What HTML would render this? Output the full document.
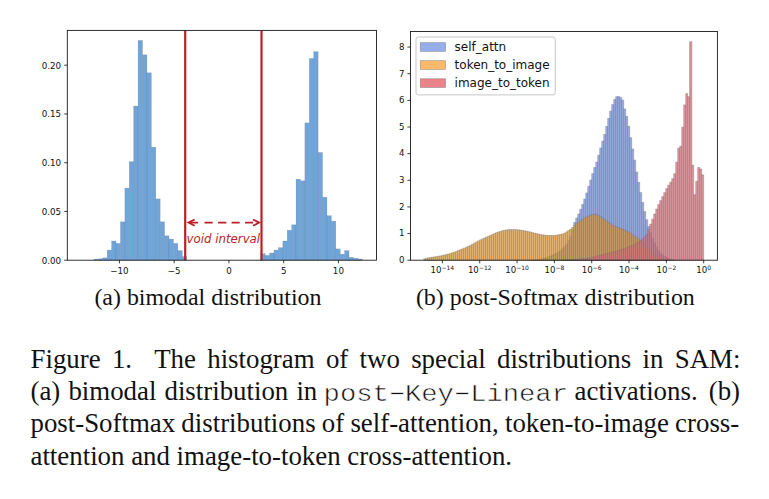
<!DOCTYPE html>
<html><head><meta charset="utf-8"><title>Figure 1</title>
<style>
html,body{margin:0;padding:0;background:#fff;}
body{width:769px;height:499px;position:relative;overflow:hidden;font-family:"Liberation Serif",serif;color:#111;}
.sub{position:absolute;font-size:23.92px;line-height:30px;white-space:nowrap;}
.ln{position:absolute;font-size:26.85px;line-height:32px;height:32px;white-space:nowrap;}
.mono{font-family:"Liberation Mono",monospace;font-size:27.15px;color:#111;-webkit-text-stroke:0.6px #fff;transform:scaleY(0.89);transform-origin:0 72.5%;}
.hy{display:inline-block;transform:scale(1.75,0.75);}
</style></head><body>
<svg width="769" height="499" viewBox="0 0 769 499" style="position:absolute;left:0;top:0">
<g fill="#70a5da" stroke="rgba(85,95,110,0.33)" stroke-width="0.5">
<rect x="93.95" y="259.20" width="4.415" height="1.00"/>
<rect x="98.37" y="258.80" width="4.415" height="1.40"/>
<rect x="102.78" y="257.80" width="4.415" height="2.40"/>
<rect x="107.20" y="250.10" width="4.415" height="10.10"/>
<rect x="111.61" y="241.00" width="4.415" height="19.20"/>
<rect x="116.03" y="243.40" width="4.415" height="16.80"/>
<rect x="120.44" y="221.80" width="4.415" height="38.40"/>
<rect x="124.86" y="188.10" width="4.415" height="72.10"/>
<rect x="129.28" y="161.60" width="4.415" height="98.60"/>
<rect x="133.69" y="106.10" width="4.415" height="154.10"/>
<rect x="138.10" y="40.40" width="4.415" height="219.80"/>
<rect x="142.52" y="54.80" width="4.415" height="205.40"/>
<rect x="146.94" y="72.80" width="4.415" height="187.40"/>
<rect x="151.35" y="147.20" width="4.415" height="113.00"/>
<rect x="155.76" y="198.90" width="4.415" height="61.30"/>
<rect x="160.18" y="221.80" width="4.415" height="38.40"/>
<rect x="164.59" y="235.80" width="4.415" height="24.40"/>
<rect x="169.01" y="239.10" width="4.415" height="21.10"/>
<rect x="173.43" y="243.40" width="4.415" height="16.80"/>
<rect x="177.84" y="250.60" width="4.415" height="9.60"/>
<rect x="182.25" y="256.60" width="4.415" height="3.60"/>
<rect x="260.73" y="253.70" width="4.415" height="6.50"/>
<rect x="265.15" y="255.40" width="4.415" height="4.80"/>
<rect x="269.56" y="253.00" width="4.415" height="7.20"/>
<rect x="273.98" y="250.10" width="4.415" height="10.10"/>
<rect x="278.39" y="247.70" width="4.415" height="12.50"/>
<rect x="282.81" y="241.00" width="4.415" height="19.20"/>
<rect x="287.22" y="230.20" width="4.415" height="30.00"/>
<rect x="291.64" y="224.80" width="4.415" height="35.40"/>
<rect x="296.05" y="179.20" width="4.415" height="81.00"/>
<rect x="300.47" y="180.80" width="4.415" height="79.40"/>
<rect x="304.88" y="122.90" width="4.415" height="137.30"/>
<rect x="309.30" y="58.50" width="4.415" height="201.70"/>
<rect x="313.71" y="51.70" width="4.415" height="208.50"/>
<rect x="318.13" y="152.50" width="4.415" height="107.70"/>
<rect x="322.54" y="197.20" width="4.415" height="63.00"/>
<rect x="326.96" y="215.70" width="4.415" height="44.50"/>
<rect x="331.37" y="221.20" width="4.415" height="39.00"/>
<rect x="335.79" y="248.90" width="4.415" height="11.30"/>
<rect x="340.20" y="254.20" width="4.415" height="6.00"/>
<rect x="344.62" y="250.60" width="4.415" height="9.60"/>
<rect x="349.03" y="257.30" width="4.415" height="2.90"/>
<rect x="353.45" y="258.30" width="4.415" height="1.90"/>
<rect x="357.86" y="259.00" width="4.415" height="1.20"/>
</g>
<line x1="185.20" y1="30.4" x2="185.20" y2="260.2" stroke="#bb1f27" stroke-width="2.2"/>
<line x1="261.50" y1="30.4" x2="261.50" y2="260.2" stroke="#bb1f27" stroke-width="2.2"/>
<g stroke="#bb1f27" stroke-width="1.8" fill="none">
<path d="M189.1 222.6H198.1M204.5 222.6H212.7M218.1 222.6H226.3M231.6 222.6H239.7M245.1 222.6H253.2M257.5 222.6H258.59999999999997"/>
<path d="M194.70 219.5L188.50 222.6L194.70 225.7M253.00 219.5L259.20 222.6L253.00 225.7" stroke-linejoin="miter"/>
</g>
<rect x="67.3" y="30.4" width="309.20" height="229.80" fill="none" stroke="#1a1a1a" stroke-width="0.9"/>
<path d="M119.45 260.2v3.1M174.20 260.2v3.1M228.95 260.2v3.1M283.70 260.2v3.1M338.45 260.2v3.1M67.3 260.20h-3.1M67.3 211.45h-3.1M67.3 162.70h-3.1M67.3 113.95h-3.1M67.3 65.20h-3.1" stroke="#000" stroke-width="0.75" fill="none"/>
<g fill="rgba(112,140,220,0.7)" stroke="rgba(110,110,110,0.42)" stroke-width="0.9">
<rect x="529.73" y="260.15" width="2.000" height="0.05"/>
<rect x="531.73" y="260.01" width="2.000" height="0.19"/>
<rect x="533.73" y="259.87" width="2.000" height="0.33"/>
<rect x="535.73" y="259.73" width="2.000" height="0.47"/>
<rect x="537.73" y="259.59" width="2.000" height="0.61"/>
<rect x="539.73" y="259.28" width="2.000" height="0.92"/>
<rect x="541.73" y="258.67" width="2.000" height="1.53"/>
<rect x="543.73" y="258.07" width="2.000" height="2.13"/>
<rect x="545.73" y="257.47" width="2.000" height="2.73"/>
<rect x="547.73" y="256.86" width="2.000" height="3.34"/>
<rect x="549.73" y="256.03" width="2.000" height="4.17"/>
<rect x="551.73" y="255.03" width="2.000" height="5.17"/>
<rect x="553.73" y="254.03" width="2.000" height="6.17"/>
<rect x="555.73" y="253.03" width="2.000" height="7.17"/>
<rect x="557.73" y="252.03" width="2.000" height="8.17"/>
<rect x="559.73" y="250.29" width="2.000" height="9.91"/>
<rect x="561.73" y="248.32" width="2.000" height="11.88"/>
<rect x="563.73" y="246.35" width="2.000" height="13.85"/>
<rect x="565.73" y="244.14" width="2.000" height="16.06"/>
<rect x="567.73" y="240.09" width="2.000" height="20.11"/>
<rect x="569.73" y="236.05" width="2.000" height="24.15"/>
<rect x="571.73" y="229.66" width="2.000" height="30.54"/>
<rect x="573.73" y="222.33" width="2.000" height="37.87"/>
<rect x="575.73" y="218.04" width="2.000" height="42.16"/>
<rect x="577.73" y="213.97" width="2.000" height="46.23"/>
<rect x="579.73" y="209.30" width="2.000" height="50.90"/>
<rect x="581.73" y="204.41" width="2.000" height="55.79"/>
<rect x="583.73" y="199.02" width="2.000" height="61.18"/>
<rect x="585.73" y="192.98" width="2.000" height="67.22"/>
<rect x="587.73" y="186.31" width="2.000" height="73.89"/>
<rect x="589.73" y="180.12" width="2.000" height="80.08"/>
<rect x="591.73" y="173.61" width="2.000" height="86.59"/>
<rect x="593.73" y="167.47" width="2.000" height="92.73"/>
<rect x="595.73" y="162.13" width="2.000" height="98.07"/>
<rect x="597.73" y="155.34" width="2.000" height="104.86"/>
<rect x="599.72" y="147.95" width="2.000" height="112.25"/>
<rect x="601.72" y="141.22" width="2.000" height="118.98"/>
<rect x="603.72" y="134.40" width="2.000" height="125.80"/>
<rect x="605.72" y="126.40" width="2.000" height="133.80"/>
<rect x="607.72" y="118.41" width="2.000" height="141.79"/>
<rect x="609.72" y="111.12" width="2.000" height="149.08"/>
<rect x="611.72" y="104.59" width="2.000" height="155.61"/>
<rect x="613.72" y="99.47" width="2.000" height="160.73"/>
<rect x="615.72" y="96.76" width="2.000" height="163.44"/>
<rect x="617.72" y="96.43" width="2.000" height="163.77"/>
<rect x="619.72" y="97.61" width="2.000" height="162.59"/>
<rect x="621.72" y="100.13" width="2.000" height="160.07"/>
<rect x="623.72" y="108.92" width="2.000" height="151.28"/>
<rect x="625.72" y="116.50" width="2.000" height="143.70"/>
<rect x="627.72" y="126.31" width="2.000" height="133.89"/>
<rect x="629.72" y="137.62" width="2.000" height="122.58"/>
<rect x="631.72" y="149.06" width="2.000" height="111.14"/>
<rect x="633.72" y="160.12" width="2.000" height="100.08"/>
<rect x="635.72" y="172.12" width="2.000" height="88.08"/>
<rect x="637.72" y="182.40" width="2.000" height="77.80"/>
<rect x="639.72" y="192.61" width="2.000" height="67.59"/>
<rect x="641.72" y="202.47" width="2.000" height="57.73"/>
<rect x="643.72" y="211.58" width="2.000" height="48.62"/>
<rect x="645.72" y="219.76" width="2.000" height="40.44"/>
<rect x="647.72" y="226.57" width="2.000" height="33.63"/>
<rect x="649.72" y="232.65" width="2.000" height="27.55"/>
<rect x="651.72" y="238.65" width="2.000" height="21.55"/>
<rect x="653.72" y="243.03" width="2.000" height="17.17"/>
<rect x="655.72" y="247.03" width="2.000" height="13.17"/>
<rect x="657.72" y="250.62" width="2.000" height="9.58"/>
<rect x="659.72" y="253.31" width="2.000" height="6.89"/>
<rect x="661.72" y="254.81" width="2.000" height="5.39"/>
<rect x="663.72" y="256.31" width="2.000" height="3.89"/>
<rect x="665.72" y="257.39" width="2.000" height="2.81"/>
<rect x="667.72" y="258.37" width="2.000" height="1.83"/>
<rect x="669.71" y="259.18" width="2.000" height="1.02"/>
<rect x="671.71" y="259.69" width="2.000" height="0.51"/>
</g>
<g fill="rgba(229,157,57,0.7)" stroke="rgba(110,110,110,0.42)" stroke-width="0.9">
<rect x="423.75" y="258.83" width="2.000" height="1.37"/>
<rect x="425.75" y="258.30" width="2.000" height="1.90"/>
<rect x="427.75" y="257.77" width="2.000" height="2.43"/>
<rect x="429.75" y="257.46" width="2.000" height="2.74"/>
<rect x="431.75" y="257.18" width="2.000" height="3.02"/>
<rect x="433.75" y="256.90" width="2.000" height="3.30"/>
<rect x="435.75" y="256.59" width="2.000" height="3.61"/>
<rect x="437.75" y="256.25" width="2.000" height="3.95"/>
<rect x="439.75" y="255.91" width="2.000" height="4.29"/>
<rect x="441.75" y="255.52" width="2.000" height="4.68"/>
<rect x="443.75" y="255.02" width="2.000" height="5.18"/>
<rect x="445.75" y="254.53" width="2.000" height="5.67"/>
<rect x="447.75" y="254.02" width="2.000" height="6.18"/>
<rect x="449.75" y="253.37" width="2.000" height="6.83"/>
<rect x="451.75" y="252.73" width="2.000" height="7.47"/>
<rect x="453.75" y="252.08" width="2.000" height="8.12"/>
<rect x="455.75" y="251.30" width="2.000" height="8.90"/>
<rect x="457.75" y="250.50" width="2.000" height="9.70"/>
<rect x="459.74" y="249.70" width="2.000" height="10.50"/>
<rect x="461.74" y="248.86" width="2.000" height="11.34"/>
<rect x="463.74" y="248.00" width="2.000" height="12.20"/>
<rect x="465.74" y="247.14" width="2.000" height="13.06"/>
<rect x="467.74" y="246.27" width="2.000" height="13.93"/>
<rect x="469.74" y="245.28" width="2.000" height="14.92"/>
<rect x="471.74" y="244.14" width="2.000" height="16.06"/>
<rect x="473.74" y="243.00" width="2.000" height="17.20"/>
<rect x="475.74" y="241.88" width="2.000" height="18.32"/>
<rect x="477.74" y="240.86" width="2.000" height="19.34"/>
<rect x="479.74" y="239.85" width="2.000" height="20.35"/>
<rect x="481.74" y="238.83" width="2.000" height="21.37"/>
<rect x="483.74" y="237.95" width="2.000" height="22.25"/>
<rect x="485.74" y="237.09" width="2.000" height="23.11"/>
<rect x="487.74" y="236.23" width="2.000" height="23.97"/>
<rect x="489.74" y="235.33" width="2.000" height="24.87"/>
<rect x="491.74" y="234.40" width="2.000" height="25.80"/>
<rect x="493.74" y="233.48" width="2.000" height="26.72"/>
<rect x="495.74" y="232.65" width="2.000" height="27.55"/>
<rect x="497.74" y="231.97" width="2.000" height="28.23"/>
<rect x="499.74" y="231.30" width="2.000" height="28.90"/>
<rect x="501.74" y="230.66" width="2.000" height="29.54"/>
<rect x="503.74" y="230.32" width="2.000" height="29.88"/>
<rect x="505.74" y="229.98" width="2.000" height="30.22"/>
<rect x="507.74" y="229.64" width="2.000" height="30.56"/>
<rect x="509.74" y="229.60" width="2.000" height="30.60"/>
<rect x="511.74" y="229.60" width="2.000" height="30.60"/>
<rect x="513.74" y="229.60" width="2.000" height="30.60"/>
<rect x="515.74" y="229.73" width="2.000" height="30.47"/>
<rect x="517.74" y="229.95" width="2.000" height="30.25"/>
<rect x="519.74" y="230.16" width="2.000" height="30.04"/>
<rect x="521.74" y="230.45" width="2.000" height="29.75"/>
<rect x="523.74" y="230.85" width="2.000" height="29.35"/>
<rect x="525.74" y="231.25" width="2.000" height="28.95"/>
<rect x="527.74" y="231.66" width="2.000" height="28.54"/>
<rect x="529.73" y="232.18" width="2.000" height="28.02"/>
<rect x="531.73" y="232.71" width="2.000" height="27.49"/>
<rect x="533.73" y="233.23" width="2.000" height="26.97"/>
<rect x="535.73" y="233.70" width="2.000" height="26.50"/>
<rect x="537.73" y="234.16" width="2.000" height="26.04"/>
<rect x="539.73" y="234.62" width="2.000" height="25.58"/>
<rect x="541.73" y="234.93" width="2.000" height="25.27"/>
<rect x="543.73" y="235.15" width="2.000" height="25.05"/>
<rect x="545.73" y="235.36" width="2.000" height="24.84"/>
<rect x="547.73" y="235.50" width="2.000" height="24.70"/>
<rect x="549.73" y="235.50" width="2.000" height="24.70"/>
<rect x="551.73" y="235.50" width="2.000" height="24.70"/>
<rect x="553.73" y="235.47" width="2.000" height="24.73"/>
<rect x="555.73" y="235.18" width="2.000" height="25.02"/>
<rect x="557.73" y="234.85" width="2.000" height="25.35"/>
<rect x="559.73" y="234.45" width="2.000" height="25.75"/>
<rect x="561.73" y="233.94" width="2.000" height="26.26"/>
<rect x="563.73" y="233.14" width="2.000" height="27.06"/>
<rect x="565.73" y="231.88" width="2.000" height="28.32"/>
<rect x="567.73" y="230.56" width="2.000" height="29.64"/>
<rect x="569.73" y="229.19" width="2.000" height="31.01"/>
<rect x="571.73" y="227.47" width="2.000" height="32.73"/>
<rect x="573.73" y="225.70" width="2.000" height="34.50"/>
<rect x="575.73" y="223.93" width="2.000" height="36.27"/>
<rect x="577.73" y="222.29" width="2.000" height="37.91"/>
<rect x="579.73" y="220.88" width="2.000" height="39.32"/>
<rect x="581.73" y="219.47" width="2.000" height="40.73"/>
<rect x="583.73" y="218.06" width="2.000" height="42.14"/>
<rect x="585.73" y="217.07" width="2.000" height="43.13"/>
<rect x="587.73" y="216.17" width="2.000" height="44.03"/>
<rect x="589.73" y="215.32" width="2.000" height="44.88"/>
<rect x="591.73" y="214.67" width="2.000" height="45.53"/>
<rect x="593.73" y="214.24" width="2.000" height="45.96"/>
<rect x="595.73" y="214.55" width="2.000" height="45.65"/>
<rect x="597.73" y="215.50" width="2.000" height="44.70"/>
<rect x="599.72" y="216.84" width="2.000" height="43.36"/>
<rect x="601.72" y="218.24" width="2.000" height="41.96"/>
<rect x="603.72" y="219.64" width="2.000" height="40.56"/>
<rect x="605.72" y="221.05" width="2.000" height="39.15"/>
<rect x="607.72" y="222.47" width="2.000" height="37.73"/>
<rect x="609.72" y="223.90" width="2.000" height="36.30"/>
<rect x="611.72" y="225.33" width="2.000" height="34.87"/>
<rect x="613.72" y="226.25" width="2.000" height="33.95"/>
<rect x="615.72" y="227.05" width="2.000" height="33.15"/>
<rect x="617.72" y="227.85" width="2.000" height="32.35"/>
<rect x="619.72" y="228.63" width="2.000" height="31.57"/>
<rect x="621.72" y="229.37" width="2.000" height="30.83"/>
<rect x="623.72" y="230.12" width="2.000" height="30.08"/>
<rect x="625.72" y="230.86" width="2.000" height="29.34"/>
<rect x="627.72" y="232.10" width="2.000" height="28.10"/>
<rect x="629.72" y="233.45" width="2.000" height="26.75"/>
<rect x="631.72" y="234.80" width="2.000" height="25.40"/>
<rect x="633.72" y="236.19" width="2.000" height="24.01"/>
<rect x="635.72" y="237.69" width="2.000" height="22.51"/>
<rect x="637.72" y="239.19" width="2.000" height="21.01"/>
<rect x="639.72" y="240.87" width="2.000" height="19.33"/>
<rect x="641.72" y="242.78" width="2.000" height="17.42"/>
<rect x="643.72" y="244.68" width="2.000" height="15.52"/>
<rect x="645.72" y="246.82" width="2.000" height="13.38"/>
<rect x="647.72" y="249.32" width="2.000" height="10.88"/>
<rect x="649.72" y="251.81" width="2.000" height="8.39"/>
<rect x="651.72" y="253.31" width="2.000" height="6.89"/>
<rect x="653.72" y="254.81" width="2.000" height="5.39"/>
<rect x="655.72" y="256.01" width="2.000" height="4.19"/>
<rect x="657.72" y="257.01" width="2.000" height="3.19"/>
<rect x="659.72" y="257.95" width="2.000" height="2.25"/>
<rect x="661.72" y="258.67" width="2.000" height="1.53"/>
<rect x="663.72" y="259.40" width="2.000" height="0.80"/>
<rect x="665.72" y="259.90" width="2.000" height="0.30"/>
</g>
<g fill="rgba(213,118,122,0.75)" stroke="rgba(110,110,110,0.42)" stroke-width="0.9">
<rect x="561.73" y="260.05" width="2.000" height="0.15"/>
<rect x="563.73" y="259.95" width="2.000" height="0.25"/>
<rect x="565.73" y="259.84" width="2.000" height="0.36"/>
<rect x="567.73" y="259.73" width="2.000" height="0.47"/>
<rect x="569.73" y="259.63" width="2.000" height="0.57"/>
<rect x="571.73" y="259.52" width="2.000" height="0.68"/>
<rect x="573.73" y="259.41" width="2.000" height="0.79"/>
<rect x="575.73" y="259.24" width="2.000" height="0.96"/>
<rect x="577.73" y="259.05" width="2.000" height="1.15"/>
<rect x="579.73" y="258.87" width="2.000" height="1.33"/>
<rect x="581.73" y="258.68" width="2.000" height="1.52"/>
<rect x="583.73" y="258.49" width="2.000" height="1.71"/>
<rect x="585.73" y="258.31" width="2.000" height="1.89"/>
<rect x="587.73" y="258.12" width="2.000" height="2.08"/>
<rect x="589.73" y="257.82" width="2.000" height="2.38"/>
<rect x="591.73" y="257.31" width="2.000" height="2.89"/>
<rect x="593.73" y="256.80" width="2.000" height="3.40"/>
<rect x="595.73" y="256.29" width="2.000" height="3.91"/>
<rect x="597.73" y="255.79" width="2.000" height="4.41"/>
<rect x="599.72" y="255.28" width="2.000" height="4.92"/>
<rect x="601.72" y="254.77" width="2.000" height="5.43"/>
<rect x="603.72" y="254.28" width="2.000" height="5.92"/>
<rect x="605.72" y="253.78" width="2.000" height="6.42"/>
<rect x="607.72" y="253.29" width="2.000" height="6.91"/>
<rect x="609.72" y="252.80" width="2.000" height="7.40"/>
<rect x="611.72" y="252.31" width="2.000" height="7.89"/>
<rect x="613.72" y="251.81" width="2.000" height="8.39"/>
<rect x="615.72" y="251.24" width="2.000" height="8.96"/>
<rect x="617.72" y="250.54" width="2.000" height="9.66"/>
<rect x="619.72" y="249.83" width="2.000" height="10.37"/>
<rect x="621.72" y="249.12" width="2.000" height="11.08"/>
<rect x="623.72" y="248.41" width="2.000" height="11.79"/>
<rect x="625.72" y="247.71" width="2.000" height="12.49"/>
<rect x="627.72" y="247.00" width="2.000" height="13.20"/>
<rect x="629.72" y="246.07" width="2.000" height="14.13"/>
<rect x="631.72" y="245.10" width="2.000" height="15.10"/>
<rect x="633.72" y="244.13" width="2.000" height="16.07"/>
<rect x="635.72" y="243.03" width="2.000" height="17.17"/>
<rect x="637.72" y="241.83" width="2.000" height="18.37"/>
<rect x="639.72" y="240.63" width="2.000" height="19.57"/>
<rect x="641.72" y="239.10" width="2.000" height="21.10"/>
<rect x="643.72" y="236.83" width="2.000" height="23.37"/>
<rect x="645.72" y="234.56" width="2.000" height="25.64"/>
<rect x="647.72" y="229.65" width="2.000" height="30.55"/>
<rect x="649.72" y="224.06" width="2.000" height="36.14"/>
<rect x="651.72" y="219.06" width="2.000" height="41.14"/>
<rect x="653.72" y="214.06" width="2.000" height="46.14"/>
<rect x="655.72" y="209.06" width="2.000" height="51.14"/>
<rect x="657.72" y="204.57" width="2.000" height="55.63"/>
<rect x="659.72" y="200.59" width="2.000" height="59.61"/>
<rect x="661.72" y="196.67" width="2.000" height="63.53"/>
<rect x="663.72" y="192.67" width="2.000" height="67.53"/>
<rect x="665.72" y="188.67" width="2.000" height="71.53"/>
<rect x="667.72" y="185.20" width="2.000" height="75.00"/>
<rect x="669.71" y="182.20" width="2.000" height="78.00"/>
<rect x="671.71" y="178.70" width="2.000" height="81.50"/>
<rect x="673.71" y="173.70" width="2.000" height="86.50"/>
<rect x="675.71" y="162.20" width="2.000" height="98.00"/>
<rect x="677.71" y="148.20" width="2.000" height="112.00"/>
<rect x="679.71" y="146.20" width="2.000" height="114.00"/>
<rect x="681.71" y="127.20" width="2.000" height="133.00"/>
<rect x="683.71" y="104.90" width="2.000" height="155.30"/>
<rect x="685.71" y="93.60" width="2.000" height="166.60"/>
<rect x="687.71" y="96.70" width="2.000" height="163.50"/>
<rect x="689.71" y="41.70" width="2.000" height="218.50"/>
<rect x="691.71" y="165.20" width="2.000" height="95.00"/>
<rect x="693.71" y="194.70" width="2.000" height="65.50"/>
<rect x="695.71" y="181.30" width="2.000" height="78.90"/>
<rect x="697.71" y="167.50" width="2.000" height="92.70"/>
<rect x="699.71" y="169.00" width="2.000" height="91.20"/>
<rect x="701.71" y="174.90" width="2.000" height="85.30"/>
</g>
<rect x="689.0" y="41.90" width="3.5" height="124" fill="rgba(213,118,122,0.22)"/>
<rect x="410.5" y="31.5" width="306.90" height="228.70" fill="none" stroke="#1a1a1a" stroke-width="0.9"/>
<path d="M410.5 260.20h-3.1M410.5 233.56h-3.1M410.5 206.92h-3.1M410.5 180.28h-3.1M410.5 153.64h-3.1M410.5 127.00h-3.1M410.5 100.36h-3.1M410.5 73.72h-3.1M410.5 47.08h-3.1M442.40 260.2v3.1M479.73 260.2v3.1M517.06 260.2v3.1M554.39 260.2v3.1M591.72 260.2v3.1M629.04 260.2v3.1M666.37 260.2v3.1M703.70 260.2v3.1" stroke="#000" stroke-width="0.75" fill="none"/>
<rect x="416" y="37" width="139.3" height="57.9" rx="2.4" fill="rgba(255,255,255,0.8)" stroke="#c6c6c6" stroke-width="1"/>
<rect x="420.3" y="42.65" width="25.2" height="8.7" fill="#96afeb" stroke="rgba(90,90,90,0.5)" stroke-width="0.7"/>
<rect x="420.3" y="60.70" width="25.2" height="8.7" fill="#fdba6c" stroke="rgba(90,90,90,0.5)" stroke-width="0.7"/>
<rect x="420.3" y="78.75" width="25.2" height="8.7" fill="#eb848a" stroke="rgba(90,90,90,0.5)" stroke-width="0.7"/>
<g font-family="'DejaVu Sans', 'Liberation Sans', sans-serif" fill="#111" stroke="none">
<text x="223.3" y="243.4" font-size="11.8" text-anchor="middle" font-style="italic" fill="#bb1f27">void interval</text>
<text x="119.4" y="273.6" font-size="8.7" text-anchor="middle">−10</text>
<text x="174.2" y="273.6" font-size="8.7" text-anchor="middle">−5</text>
<text x="228.9" y="273.6" font-size="8.7" text-anchor="middle">0</text>
<text x="283.7" y="273.6" font-size="8.7" text-anchor="middle">5</text>
<text x="338.4" y="273.6" font-size="8.7" text-anchor="middle">10</text>
<text x="61.0" y="263.5" font-size="8.7" text-anchor="end">0.00</text>
<text x="61.0" y="214.8" font-size="8.7" text-anchor="end">0.05</text>
<text x="61.0" y="166.0" font-size="8.7" text-anchor="end">0.10</text>
<text x="61.0" y="117.2" font-size="8.7" text-anchor="end">0.15</text>
<text x="61.0" y="68.5" font-size="8.7" text-anchor="end">0.20</text>
<text x="404.4" y="263.0" font-size="8.6" text-anchor="end">0</text>
<text x="404.4" y="236.4" font-size="8.6" text-anchor="end">1</text>
<text x="404.4" y="209.7" font-size="8.6" text-anchor="end">2</text>
<text x="404.4" y="183.1" font-size="8.6" text-anchor="end">3</text>
<text x="404.4" y="156.4" font-size="8.6" text-anchor="end">4</text>
<text x="404.4" y="129.8" font-size="8.6" text-anchor="end">5</text>
<text x="404.4" y="103.2" font-size="8.6" text-anchor="end">6</text>
<text x="404.4" y="76.5" font-size="8.6" text-anchor="end">7</text>
<text x="404.4" y="49.9" font-size="8.6" text-anchor="end">8</text>
<text x="430.6" y="272.8" font-size="8.6" text-anchor="start">10</text>
<text x="441.5" y="269.6" font-size="6.0" text-anchor="start">−14</text>
<text x="467.9" y="272.8" font-size="8.6" text-anchor="start">10</text>
<text x="478.9" y="269.6" font-size="6.0" text-anchor="start">−12</text>
<text x="505.2" y="272.8" font-size="8.6" text-anchor="start">10</text>
<text x="516.2" y="269.6" font-size="6.0" text-anchor="start">−10</text>
<text x="544.5" y="272.8" font-size="8.6" text-anchor="start">10</text>
<text x="555.4" y="269.6" font-size="6.0" text-anchor="start">−8</text>
<text x="581.8" y="272.8" font-size="8.6" text-anchor="start">10</text>
<text x="592.8" y="269.6" font-size="6.0" text-anchor="start">−6</text>
<text x="619.1" y="272.8" font-size="8.6" text-anchor="start">10</text>
<text x="630.1" y="269.6" font-size="6.0" text-anchor="start">−4</text>
<text x="656.5" y="272.8" font-size="8.6" text-anchor="start">10</text>
<text x="667.4" y="269.6" font-size="6.0" text-anchor="start">−2</text>
<text x="696.3" y="272.8" font-size="8.6" text-anchor="start">10</text>
<text x="707.3" y="269.6" font-size="6.0" text-anchor="start">0</text>
<text x="454.6" y="51.0" font-size="12.0" text-anchor="start">self_attn</text>
<text x="454.6" y="69.1" font-size="12.0" text-anchor="start">token_to_image</text>
<text x="454.6" y="87.2" font-size="12.0" text-anchor="start">image_to_token</text>
</g>
</svg>
<div class="sub" style="left:94.4px;top:281.9px">(a) bimodal distribution</div>
<div class="sub" style="left:415.9px;top:281.9px">(b) post-Softmax distribution</div>
<div class="ln" id="l1" style="left:30.5px;top:342.6px;word-spacing:4.6px">Figure 1.&nbsp; The histogram of two special distributions in SAM:</div>
<div class="ln" id="l2a" style="left:30.5px;top:374.9px;word-spacing:1.4px">(a) bimodal distribution in</div>
<div class="ln mono" id="l2b" style="left:323.6px;top:378.0px">post<span class="hy">-</span>Key<span class="hy">-</span>Linear</div>
<div class="ln" id="l2c" style="left:574.6px;top:374.9px">activations.</div>
<div class="ln" id="l2d" style="left:708.7px;top:374.9px">(b)</div>
<div class="ln" id="l3" style="left:30.5px;top:407.2px;word-spacing:-0.5px">post-Softmax distributions of self-attention, token-to-image cross-</div>
<div class="ln" id="l4" style="left:30.5px;top:439.5px">attention and image-to-token cross-attention.</div>
</body></html>
